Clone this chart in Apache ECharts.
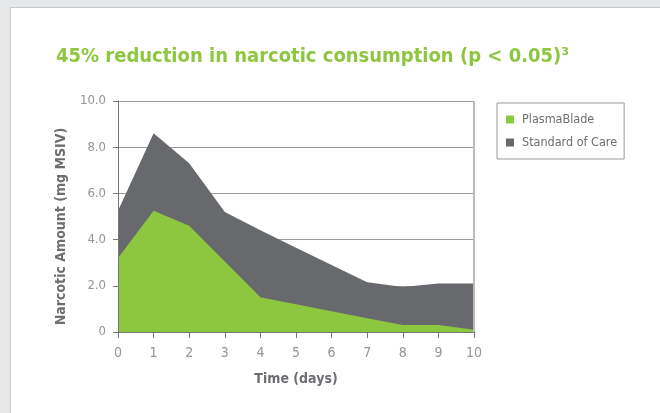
<!DOCTYPE html>
<html>
<head>
<meta charset="utf-8">
<script src="https://cdn.jsdelivr.net/npm/echarts@6/dist/echarts.min.js"></script>
<style>
  html, body { margin: 0; padding: 0; background: #e6e7e8; }
  #wrap { position: relative; width: 660px; height: 413px; overflow: hidden; }
  #panel { position: absolute; left: 10px; top: 7px; width: 700px; height: 460px; background: #fff; border-left: 1px solid #c9c9c9; border-top: 1px solid #c9c9c9; box-sizing: border-box; }
  #chart { position: absolute; left: 0; top: 0; width: 660px; height: 413px; }
</style>
</head>
<body>
<div id="wrap">
  <div id="panel"></div>
  <div id="chart"></div>
</div>
<script>
const days = [0, 1, 2, 3, 4, 5, 6, 7, 8, 9, 10];
const plasmaBlade = [3.2, 5.25, 4.6, 3.05, 1.5, 1.2, 0.9, 0.6, 0.3, 0.3, 0.1];
const standardOfCare = [5.25, 8.6, 7.3, 5.2, 4.4, 3.65, 2.9, 2.15, 1.95, 2.1, 2.1];
const seriesNames = ['PlasmaBlade', 'Standard of Care'];
const titleText = '45% reduction in narcotic consumption (p < 0.05)³';

const FONT = '"Liberation Sans Narrow", "DejaVu Sans Condensed", sans-serif';
const chart = echarts.init(document.getElementById('chart'), null, { renderer: 'canvas' });

const pairs = (ys) => days.map((d, i) => [d, ys[i]]);

chart.setOption({
  backgroundColor: 'transparent',
  animation: false,
  textStyle: { fontFamily: FONT },
  title: {
    text: titleText,
    left: 51,
    top: 42,
    textStyle: { color: '#8dc63f', fontSize: 20, fontWeight: 'bold', fontFamily: FONT }
  },
  legend: {
    orient: 'vertical',
    left: 497,
    top: 103,
    data: seriesNames,
    icon: 'rect',
    itemWidth: 8,
    itemHeight: 8,
    itemGap: 10,
    padding: [10, 7, 10, 9],
    borderColor: '#9a9a9a',
    borderWidth: 1,
    backgroundColor: '#fff',
    textStyle: { color: '#6d6e71', fontSize: 12.5, fontFamily: FONT, padding: [0, 0, 0, 3] }
  },
  grid: {
    left: 118, top: 101, width: 356, height: 231,
    show: false
  },
  xAxis: {
    type: 'value',
    min: 0, max: 10, interval: 1,
    name: 'Time (days)',
    nameLocation: 'middle',
    nameGap: 40,
    nameTextStyle: { color: '#6d6e71', fontSize: 14, fontWeight: 'bold', fontFamily: FONT },
    axisLine: { show: true, lineStyle: { color: '#777', width: 1 } },
    axisTick: { show: true, length: 6, lineStyle: { color: '#777' } },
    axisLabel: { color: '#939598', fontSize: 14, margin: 14, fontFamily: FONT },
    splitLine: { show: false }
  },
  yAxis: {
    type: 'value',
    min: 0, max: 10, interval: 2,
    name: 'Narcotic Amount (mg MSIV)',
    nameLocation: 'middle',
    nameGap: 50,
    nameTextStyle: { color: '#6d6e71', fontSize: 14, fontWeight: 'bold', fontFamily: FONT, padding: [0, 20, 0, 0] },
    axisLine: { show: true, lineStyle: { color: '#777', width: 1 } },
    axisTick: { show: true, length: 5, lineStyle: { color: '#777' } },
    axisLabel: {
      color: '#939598', fontSize: 13, margin: 12, fontFamily: FONT,
      formatter: (v) => v === 0 ? '0' : v.toFixed(1)
    },
    splitLine: { show: true, lineStyle: { color: '#9d9d9d', width: 1 } }
  },
  series: [
    {
      name: seriesNames[1],
      type: 'line',
      data: pairs(standardOfCare),
      symbol: 'none',
      lineStyle: { width: 0 },
      itemStyle: { color: '#68696d' },
      areaStyle: { color: '#68696d', opacity: 1 },
      z: 2
    },
    {
      name: seriesNames[0],
      type: 'line',
      data: pairs(plasmaBlade),
      symbol: 'none',
      lineStyle: { width: 0 },
      itemStyle: { color: '#8dc63f' },
      areaStyle: { color: '#8dc63f', opacity: 1 },
      z: 3,
      markLine: {
        silent: true,
        symbol: 'none',
        label: { show: false },
        animation: false,
        data: [
          { xAxis: 0, lineStyle: { color: '#777', width: 1, type: 'solid' } },
          { xAxis: 10, lineStyle: { color: '#bbbbbb', width: 2, type: 'solid' } },
          { yAxis: 0, lineStyle: { color: '#777', width: 1, type: 'solid' } }
        ]
      }
    }
  ]
});
</script>
</body>
</html>
